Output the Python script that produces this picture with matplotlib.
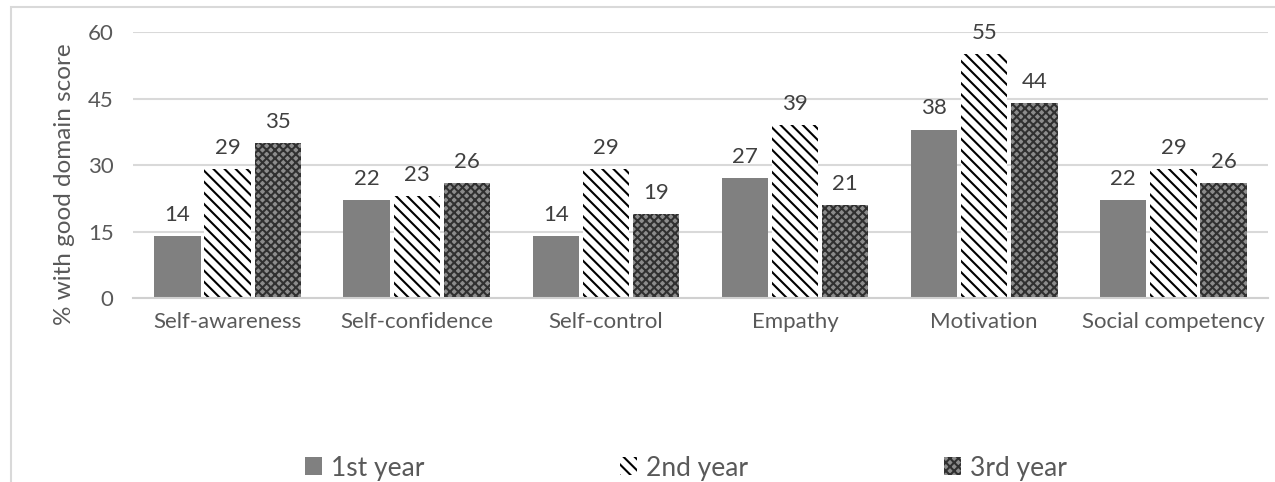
import numpy as np
import matplotlib.pyplot as plt
from matplotlib.patches import Rectangle

categories = ["Self-awareness", "Self-confidence", "Self-control", "Empathy",
              "Motivation", "Social competency"]
year1 = [14, 22, 14, 27, 38, 22]
year2 = [29, 23, 29, 39, 55, 29]
year3 = [35, 26, 19, 21, 44, 26]
series_names = ["1st year", "2nd year", "3rd year"]
yticks = [0, 15, 30, 45, 60]


def main():
    plt.rcParams['font.family'] = ['Lato', 'DejaVu Sans']
    plt.rcParams['hatch.linewidth'] = 1.5
    txt = '#595959'
    fs = 16

    fig = plt.figure(figsize=(12.75, 4.82), dpi=100)
    ax = fig.add_axes([0.1043, 0.3817, 0.8902, 0.5519])

    x = np.arange(len(categories))
    w = 0.245
    off = 0.265
    b1 = ax.bar(x - off, year1, w, color='#808080', linewidth=0, label=series_names[0])
    b2 = ax.bar(x, year2, w, facecolor='white', edgecolor='black', linewidth=0,
                hatch='\\\\\\', label=series_names[1])
    b3 = ax.bar(x + off, year3, w, facecolor='#8c8c8c', edgecolor='#303030', linewidth=0,
                hatch='xxxx', label=series_names[2])

    for bars, vals in ((b1, year1), (b2, year2), (b3, year3)):
        for r, v in zip(bars, vals):
            ax.annotate(str(v), (r.get_x() + r.get_width() / 2, r.get_height()),
                        xytext=(0, 8), textcoords='offset points',
                        ha='center', va='bottom', fontsize=fs, color='#404040')

    ax.set_xlim(-0.5, len(categories) - 0.5)
    ax.set_ylim(0, 60)
    ax.set_yticks(yticks)
    ax.set_xticks(x)
    ax.set_xticklabels(categories)
    ax.tick_params(axis='both', length=0, labelsize=fs, colors=txt)
    ax.tick_params(axis='y', pad=14)
    ax.tick_params(axis='x', pad=10)
    ax.yaxis.grid(True, color='#d9d9d9', linewidth=1.5)
    ax.set_axisbelow(True)
    for s in ('top', 'right', 'left'):
        ax.spines[s].set_visible(False)
    ax.spines['bottom'].set_color('#d0d0d0')
    ax.spines['bottom'].set_linewidth(1.5)
    ax.set_ylabel("% with good domain score", fontsize=17.5, color=txt)
    ax.yaxis.set_label_coords(-0.051, 0.429)

    # legend entries placed separately, as in the reference
    for h, name, xpos in zip((b1, b2, b3), series_names, (0.239, 0.486, 0.740)):
        leg = fig.legend(handles=[h], labels=[name], loc='center left',
                         bbox_to_anchor=(xpos, 0.029), frameon=False,
                         fontsize=19, handlelength=0.65, handleheight=0.65,
                         handletextpad=0.35, borderpad=0, borderaxespad=0)
        for t in leg.get_texts():
            t.set_color(txt)

    fig.patches.append(Rectangle((11 / 1275, -0.1), 1.2, 0.1 + 475 / 482,
                                 transform=fig.transFigure, fill=False,
                                 edgecolor='#d9d9d9', linewidth=1.5))

    fig.savefig("out.png", dpi=100)


if __name__ == "__main__":
    main()
